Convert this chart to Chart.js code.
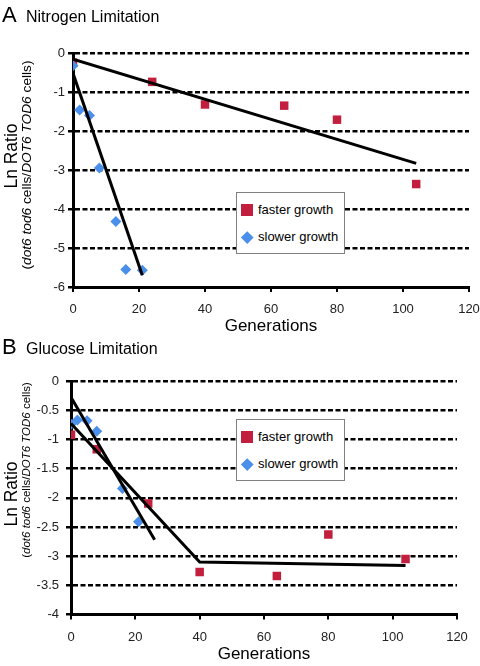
<!DOCTYPE html>
<html><head><meta charset="utf-8">
<script src="https://cdn.jsdelivr.net/npm/chart.js@4.4.1/dist/chart.umd.min.js"></script>
<style>
html,body{margin:0;padding:0;background:#fff;}
body{width:480px;height:666px;position:relative;overflow:hidden;font-family:"Liberation Sans",Arial,sans-serif;color:#000;}
canvas{position:absolute;left:0;}
.abs{position:absolute;white-space:nowrap;}
.letter{font-size:22px;line-height:22px;}
.ptitle{font-size:16px;line-height:16px;}
.ytitle{position:absolute;transform:translate(-50%,-50%) rotate(-90deg);white-space:nowrap;line-height:1;}
.legend{position:absolute;background:#fff;border:1px solid #808080;box-sizing:border-box;width:109px;height:62px;}
.legend .sq{position:absolute;width:12px;height:12px;left:4px;}
.legend .dm{position:absolute;width:8.5px;height:8.5px;left:5.75px;transform:rotate(45deg);}
.legend .lt{position:absolute;left:21px;font-size:13px;line-height:16px;}
</style></head><body>
<canvas id="cA" width="480" height="340" style="top:0px"></canvas>
<canvas id="cB" width="480" height="340" style="top:326px"></canvas>

<div class="abs letter" style="left:2px;top:4px;">A</div>
<div class="abs ptitle" style="left:26px;top:9px;">Nitrogen Limitation</div>
<div class="abs letter" style="left:2px;top:336px;">B</div>
<div class="abs ptitle" style="left:26px;top:341px;">Glucose Limitation</div>

<div class="ytitle" style="left:11.5px;top:156px;font-size:17.5px;">Ln Ratio</div>
<div class="ytitle" style="left:27px;top:165px;font-size:13.7px;">(<i>dot6 tod6</i> cells/<i>DOT6 TOD6</i> cells)</div>
<div class="ytitle" style="left:11.5px;top:494px;font-size:17.5px;">Ln Ratio</div>
<div class="ytitle" style="left:27px;top:470px;font-size:11.5px;">(<i>dot6 tod6</i> cells/<i>DOT6 TOD6</i> cells)</div>

<div class="legend" id="legA" style="left:236px;top:192px;"></div>
<div class="legend" id="legB" style="left:236px;top:419px;"></div>

<script>
// ---- data ----
const seriesNames = ['faster growth', 'slower growth'];
const xTickValues = [0, 20, 40, 60, 80, 100, 120];
const yTicksA = [-6, -5, -4, -3, -2, -1, 0];
const yTicksB = [-4, -3.5, -3, -2.5, -2, -1.5, -1, -0.5, 0];

// A: Nitrogen limitation
const nFastGen = [0, 24, 40, 64, 80, 104];
const nFastLn  = [-0.25, -0.74, -1.32, -1.35, -1.71, -3.36];
const nSlowGen = [0, 2, 5, 8, 13, 16, 21];
const nSlowLn  = [-0.33, -1.46, -1.6, -2.95, -4.32, -5.55, -5.57];
const nFastFitGen = [0, 104];
const nFastFitLn  = [-0.16, -2.83];
const nSlowFitGen = [0, 21];
const nSlowFitLn  = [-0.52, -5.7];

// B: Glucose limitation
const gFastGen = [0, 8, 24, 40, 64, 80, 104];
const gFastLn  = [-0.92, -1.17, -2.1, -3.27, -3.34, -2.63, -3.05];
const gSlowGen = [0, 2, 5, 8, 16, 21];
const gSlowLn  = [-0.74, -0.67, -0.68, -0.86, -1.84, -2.41];
const gSlowFitGen = [0, 26];
const gSlowFitLn  = [-0.28, -2.72];
const gFastFitGen = [0, 40, 104];
const gFastFitLn  = [-0.73, -3.1, -3.16];

// ---- styles ----
const RED = '#C21F3E';
const BLUE = '#4A8FEA';
const FONT = '"Liberation Sans", Arial, sans-serif';

function pts(xs, ys) { return xs.map((x, i) => ({x: x, y: ys[i]})); }

function buildLegend(id) {
  const el = document.getElementById(id);
  el.innerHTML =
    '<div class="sq" style="top:' + (17 - 6) + 'px;background:' + RED + '"></div>' +
    '<div class="lt" style="top:' + (17 - 8) + 'px;">' + seriesNames[0] + '</div>' +
    '<div class="dm" style="top:' + (44 - 4.25) + 'px;background:' + BLUE + '"></div>' +
    '<div class="lt" style="top:' + (44 - 8) + 'px;">' + seriesNames[1] + '</div>';
}

function buildChart(id, o) {
  const fitSets = o.fits.map(f => ({
    data: pts(f[0], f[1]), showLine: true, borderColor: '#000', borderWidth: 3,
    pointRadius: 0, fill: false, tension: 0, order: 0
  }));
  return new Chart(document.getElementById(id), {
    type: 'scatter',
    data: {
      datasets: fitSets.concat([
        {label: seriesNames[0], data: pts(o.fastX, o.fastY), pointStyle: 'rect', pointRadius: 6,
         backgroundColor: RED, borderWidth: 0, order: 2},
        {label: seriesNames[1], data: pts(o.slowX, o.slowY), pointStyle: 'rectRot', pointRadius: 5.5,
         backgroundColor: BLUE, borderWidth: 0, order: 1}
      ])
    },
    options: {
      responsive: false, animation: false, events: [],
      layout: {padding: {top: o.top, right: o.right, left: 0, bottom: 0}},
      plugins: {legend: {display: false}, tooltip: {enabled: false}},
      scales: {
        x: {
          type: 'linear', min: 0, max: 120,
          afterBuildTicks: s => { s.ticks = xTickValues.map(v => ({value: v})); },
          afterFit: s => { s.height = o.xh; s.paddingLeft = 0; s.paddingRight = 0; },
          grid: {drawOnChartArea: false, drawTicks: true, tickLength: 5, color: '#000', lineWidth: 2},
          border: {display: true, color: '#000', width: 3},
          ticks: {padding: o.xpad, color: '#222', font: {size: 13, family: FONT}, maxRotation: 0, autoSkip: false,
                  callback: v => String(v)},
          title: {display: true, text: 'Generations', color: '#000', font: {size: 17, family: FONT},
                  padding: {top: 0, bottom: o.tpad}}
        },
        y: {
          type: 'linear', min: o.yTicks[0], max: 0,
          afterBuildTicks: s => { s.ticks = o.yTicks.map(v => ({value: v})); },
          afterFit: s => { s.width = o.yw; },
          grid: {color: '#000', lineWidth: 2.5, tickLength: 5},
          border: {display: true, color: '#000', width: 3, dash: [5, 2.5]},
          ticks: {padding: o.ypad, color: '#222', font: {size: 13, family: FONT}, autoSkip: false,
                  callback: v => String(v)}
        }
      }
    }
  });
}

buildChart('cA', {
  fastX: nFastGen, fastY: nFastLn, slowX: nSlowGen, slowY: nSlowLn,
  fits: [[nFastFitGen, nFastFitLn], [nSlowFitGen, nSlowFitLn]],
  yTicks: yTicksA, top: 53, right: 11, yw: 73, xh: 53, xpad: 10, tpad: 3, ypad: 3
});
buildChart('cB', {
  fastX: gFastGen, fastY: gFastLn, slowX: gSlowGen, slowY: gSlowLn,
  fits: [[gSlowFitGen, gSlowFitLn], [gFastFitGen, gFastFitLn]],
  yTicks: yTicksB, top: 55, right: 23, yw: 71, xh: 51.5, xpad: 10, tpad: 1, ypad: 7
});
buildLegend('legA');
buildLegend('legB');
</script>
</body></html>
